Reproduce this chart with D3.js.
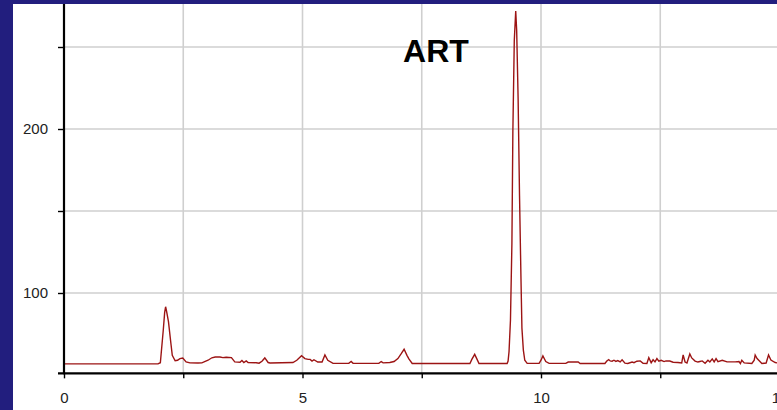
<!DOCTYPE html>
<html>
<head>
<meta charset="utf-8">
<script src="https://cdn.jsdelivr.net/npm/d3@7"></script>
<style>
  html, body { margin: 0; padding: 0; background: #221e7e; }
  svg { display: block; }
</style>
</head>
<body>
<svg id="chart" width="777" height="410"></svg>
<script>
// Chromatogram trace: retention time (min) and detector response
const retentionTime = [
  0, 1.97, 2.02, 2.04, 2.08, 2.11, 2.13, 2.15, 2.19, 2.24, 2.27, 2.33, 2.38, 2.43, 2.49, 2.56, 2.64,
  2.81, 2.89, 3.02, 3.10, 3.17, 3.27, 3.33, 3.40, 3.51, 3.58, 3.69, 3.73, 3.77, 3.82, 3.86, 4.03,
  4.09, 4.15, 4.21, 4.28, 4.32, 4.80, 4.88, 4.98, 5.05, 5.12, 5.16, 5.20, 5.24, 5.32, 5.41, 5.47,
  5.53, 5.64, 5.97, 6.02, 6.06, 6.60, 6.65, 6.69, 6.83, 6.92, 7.00, 7.07, 7.13, 7.19, 7.23, 7.30,
  8.51, 8.55, 8.61, 8.66, 8.70, 9.29, 9.31, 9.33, 9.36, 9.39, 9.41, 9.44, 9.47, 9.49, 9.52, 9.55,
  9.58, 9.60, 9.63, 9.66, 9.71, 9.96, 10.00, 10.04, 10.10, 10.17, 10.52, 10.57, 10.78, 10.82,
  11.34, 11.38, 11.42, 11.45, 11.49, 11.53, 11.57, 11.61, 11.66, 11.70, 11.76, 11.82, 11.91, 11.95,
  12.01, 12.08, 12.14, 12.22, 12.26, 12.31, 12.35, 12.39, 12.43, 12.47, 12.52, 12.58, 12.62, 12.70,
  12.77, 12.87, 12.95, 12.98, 13.02, 13.06, 13.12, 13.16, 13.23, 13.29, 13.33, 13.38, 13.44, 13.50,
  13.54, 13.59, 13.63, 13.67, 13.71, 13.80, 13.90, 14.07, 14.15, 14.18, 14.21, 14.26, 14.42, 14.47,
  14.49, 14.53, 14.57, 14.63, 14.72, 14.77, 14.82, 14.91, 14.97
];
const response = [
  56.8, 56.8, 57.5, 64, 77, 88, 91.6, 89, 82.5, 69.5, 62, 58.7, 59.0, 60.0, 60.4, 58.0, 57.4,
  57.3, 57.4, 59, 60.5, 61.0, 61.0, 60.6, 60.8, 60.6, 58, 57.8, 58.8, 57.6, 58.6, 57.6, 57.5,
  57.2, 58.4, 60.4, 57.6, 57.3, 57.6, 59, 61.8, 60, 59.5, 59.5, 58.5, 59.3, 57.9, 57.9, 62.2,
  59, 57.1, 57.1, 58.3, 57.1, 57.1, 58.2, 57.4, 57.6, 58.2, 60, 63, 65.7, 62, 59.8, 57.0,
  57.0, 59.5, 62.6, 59.5, 57.0, 57.0, 58.5, 64.3, 83.5, 130, 198, 254, 272, 260, 219, 159,
  109, 78.6, 65.2, 59, 57.1, 57.1, 59, 61.6, 58.2, 57.1, 57.1, 57.9, 57.9, 57.0,
  57.0, 58.5, 59.4, 58.6, 58.4, 59.0, 58.3, 58.8, 58.0, 59.3, 57.2, 57.0, 57.9, 57.5,
  58.4, 58.6, 57.1, 57.0, 60.6, 57.5, 59.3, 58.0, 60.0, 58.4, 59.0, 58.2, 58.6, 58.5,
  57.8, 57.6, 57.3, 62.2, 57.9, 57.3, 62.8, 60.4, 58.5, 57.9, 58.2, 58.6, 57.2, 59.0,
  57.9, 59.8, 58, 60.0, 58.2, 59.0, 58.0, 58.0, 58.2, 57.0, 59.0, 57.4, 57.0, 59,
  62.2, 60.0, 58.8, 57.0, 57.3, 62.2, 59.1, 57.6, 57.3
];

const xTicks = [0, 2.5, 5, 7.5, 10, 12.5, 15];
const xTickLabels = ["0", "", "5", "", "10", "", "15"];
const yTicks = [100, 150, 200, 250];
const yTickLabels = ["100", "", "200", ""];
const peakLabel = "ART";
const yFloor = 51;

const svg = d3.select("#chart");
const W = 777, H = 410;
const panel = { left: 13, top: 4 };
const plotTop = 4;

const x = d3.scaleLinear().domain([0, 15]).range([64, 779.5]);
const y = d3.scaleLinear().domain([50, 250]).range([375, 47]);

// white panel
svg.append("rect")
  .attr("x", panel.left).attr("y", panel.top)
  .attr("width", W - panel.left).attr("height", H - panel.top)
  .attr("fill", "#ffffff");

const clip = svg.append("defs").append("clipPath").attr("id", "plotClip");
clip.append("rect")
  .attr("x", x(0)).attr("y", plotTop)
  .attr("width", W - x(0)).attr("height", y(yFloor) - plotTop);

// grid
const grid = svg.append("g");
grid.selectAll("line.v").data(xTicks.filter(d => d > 0)).join("line")
  .attr("x1", d => x(d)).attr("x2", d => x(d))
  .attr("y1", plotTop).attr("y2", y(yFloor))
  .attr("stroke", "#cfcfcf").attr("stroke-width", 1.6);
grid.selectAll("line.h").data(yTicks).join("line")
  .attr("x1", x(0)).attr("x2", W)
  .attr("y1", d => y(d)).attr("y2", d => y(d))
  .attr("stroke", "#cfcfcf").attr("stroke-width", 1.6);

// trace
const line = d3.line()
  .x((d, i) => x(retentionTime[i]))
  .y(d => y(d));
svg.append("path")
  .datum(response)
  .attr("clip-path", "url(#plotClip)")
  .attr("d", line)
  .attr("fill", "none")
  .attr("stroke", "#9c1414")
  .attr("stroke-width", 1.4)
  .attr("stroke-linejoin", "miter");

// x axis
const xAxis = d3.axisBottom(x)
  .tickValues(xTicks)
  .tickSize(5)
  .tickPadding(14)
  .tickFormat((d, i) => xTickLabels[i]);
const gx = svg.append("g")
  .attr("transform", `translate(0,${y(yFloor)})`)
  .call(xAxis);
gx.select(".domain").remove();
gx.append("line")
  .attr("x1", 58).attr("x2", W)
  .attr("y1", 0).attr("y2", 0)
  .attr("stroke", "#000").attr("stroke-width", 2.2);

// y axis
const yAxis = d3.axisLeft(y)
  .tickValues(yTicks)
  .tickSize(6)
  .tickPadding(10)
  .tickFormat((d, i) => yTickLabels[i]);
const gy = svg.append("g")
  .attr("transform", `translate(${x(0)},0)`)
  .call(yAxis);
gy.select(".domain").remove();
gy.append("line")
  .attr("x1", 0).attr("x2", 0)
  .attr("y1", plotTop).attr("y2", y(yFloor) + 1)
  .attr("stroke", "#000").attr("stroke-width", 2.2);

svg.selectAll(".tick line").attr("stroke", "#000").attr("stroke-width", 1.4);
svg.selectAll(".tick text")
  .attr("fill", "#222")
  .style("font-family", "Liberation Sans, Arial, sans-serif")
  .style("font-size", "15px");

// peak annotation
svg.append("text")
  .attr("x", 436).attr("y", 62)
  .attr("text-anchor", "middle")
  .style("font-family", "Liberation Sans, Arial, sans-serif")
  .style("font-weight", "bold")
  .style("font-size", "32px")
  .attr("fill", "#000")
  .text(peakLabel);
</script>
</body>
</html>
